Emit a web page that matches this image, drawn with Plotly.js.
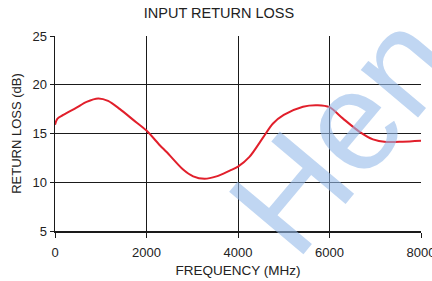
<!DOCTYPE html>
<html>
<head>
<meta charset="utf-8">
<script src="https://cdn.plot.ly/plotly-3.0.1.min.js"></script>
<style>
html,body{margin:0;padding:0;background:#fff;}
#chart{width:432px;height:281px;}
</style>
</head>
<body>
<div id="chart"></div>
<script>
// Frequency (MHz)
const freqMHz = [0, 50, 180, 470, 690, 945, 1160, 1420, 1710, 2000, 2290, 2440, 2800, 3020, 3270, 3530, 3820, 4000, 4250, 4550, 4760, 5000, 5420, 5745, 6000, 6290, 6650, 6950, 7240, 7600, 8000];
// Input return loss (dB)
const returnLossDb = [15.9, 16.5, 16.9, 17.65, 18.25, 18.6, 18.35, 17.5, 16.4, 15.3, 13.8, 13.1, 11.3, 10.6, 10.35, 10.6, 11.2, 11.6, 12.6, 14.6, 16.0, 16.9, 17.75, 17.9, 17.7, 16.55, 15.2, 14.4, 14.13, 14.16, 14.26];
const xTicks = [0, 2000, 4000, 6000, 8000];
const yTicks = [5, 10, 15, 20, 25];
const chartTitle = "INPUT RETURN LOSS";
const xTitle = "FREQUENCY (MHz)";
const yTitle = "RETURN LOSS (dB)";
const watermark = "Hen";

const font = "Liberation Sans, Arial, sans-serif";

const trace = {
  x: freqMHz,
  y: returnLossDb,
  type: "scatter",
  mode: "lines",
  line: {color: "#e11f2b", width: 2, shape: "spline", smoothing: 0.8},
  hoverinfo: "skip"
};

const layout = {
  width: 432,
  height: 281,
  margin: {l: 55, r: 11, t: 36, b: 50},
  paper_bgcolor: "#ffffff",
  plot_bgcolor: "#ffffff",
  showlegend: false,
  font: {family: font, color: "#222", size: 12},
  title: {text: chartTitle, font: {family: font, size: 14.5, color: "#222"}, x: 0.507, xanchor: "center", y: 0.955, yanchor: "middle"},
  xaxis: {
    range: [0, 8000],
    tickvals: xTicks,
    ticktext: xTicks.map(String),
    showgrid: true, gridcolor: "#1a1a1a", gridwidth: 1,
    zeroline: false,
    showline: true, linecolor: "#1a1a1a", linewidth: 1.5,
    ticks: "outside", ticklen: 5, tickcolor: "#1a1a1a",
    ticklabelstandoff: 4,
    ticklabeloverflow: "allow",
    tickfont: {family: font, size: 13, color: "#222"},
    title: {text: xTitle, font: {family: font, size: 13.5, color: "#222"}, standoff: 6},
    fixedrange: true
  },
  yaxis: {
    range: [5, 25],
    tickvals: yTicks,
    ticktext: yTicks.map(String),
    showgrid: true, gridcolor: "#1a1a1a", gridwidth: 1,
    zeroline: false,
    showline: true, linecolor: "#1a1a1a", linewidth: 1.5,
    ticks: "outside", ticklen: 4, tickcolor: "#1a1a1a",
    ticklabeloverflow: "allow",
    tickfont: {family: font, size: 13, color: "#222"},
    title: {text: yTitle, font: {family: font, size: 13, color: "#222"}, standoff: 8},
    fixedrange: true
  },
  annotations: [{
    text: watermark,
    xref: "paper", yref: "paper",
    x: 0.784, y: 0.508,
    xanchor: "center", yanchor: "middle",
    showarrow: false,
    textangle: -50,
    font: {family: font, size: 141, color: "rgba(150,186,234,0.6)"}
  }]
};

Plotly.newPlot("chart", [trace], layout, {staticPlot: true, displayModeBar: false});
</script>
</body>
</html>
